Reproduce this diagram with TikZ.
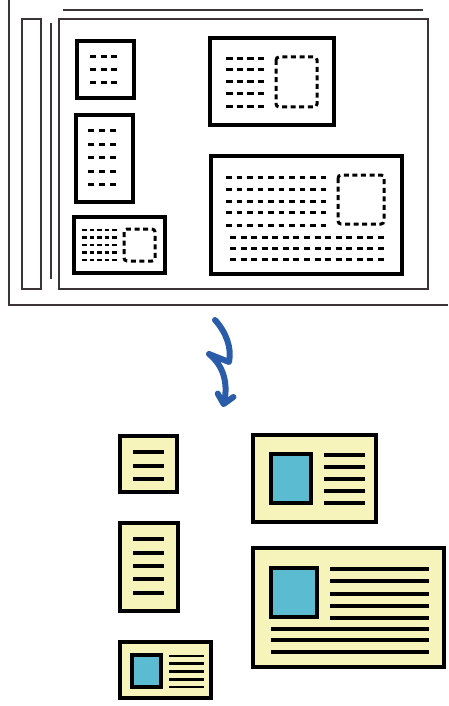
\documentclass[tikz,border=0pt]{standalone}
\usepackage{xcolor}
\usepackage{tikz}
\usetikzlibrary{arrows.meta}

\definecolor{framegray}{HTML}{3C3434}
\definecolor{cardyellow}{HTML}{F6F4BB}
\definecolor{photoblue}{HTML}{5BBCD1}
\definecolor{arrowblue}{HTML}{2A5CAA}

\begin{document}
\begin{tikzpicture}[
    x=1pt, y=-1pt,
    thin line/.style={draw=framegray, line width=1.5pt},
    scanbox/.style={draw=black, line width=3.6pt},
    dots/.style={line width=3pt, dash pattern=on #1},
    dots/.default={6pt off 4.5pt},
    photoslot/.style={draw=black, line width=3pt, rounded corners=3pt, dash pattern=on 5pt off 3.6pt},
    card/.style={draw=black, line width=3.6pt, fill=cardyellow},
    photo/.style={draw=black, line width=3.6pt, fill=photoblue},
    txt/.style={line width=3.2pt},
    flow/.style={draw=arrowblue, line width=6pt, line cap=round, line join=round,
        -{Straight Barb[length=9pt, width=16pt, round]}},
]
    \useasboundingbox (0,0) rectangle (448,706);

    % --- Scanner glass (top) ---
    \draw[thin line] (9,0) -- (9,305) -- (448,305);
    \draw[thin line] (63,10) -- (423,10);
    \draw[thin line] (22,19) rectangle (41,289);
    \draw[thin line] (51,23) -- (51,279);
    \draw[thin line] (59,19) rectangle (428,289);

    % --- Originals placed on the glass ---
    % small, landscape-ish
    \draw[scanbox] (77,41) rectangle (134,98);
    \foreach \y in {57,70,83}
        \draw[dots] (90,\y) -- (117,\y);
    % small, portrait
    \draw[scanbox] (76,115) rectangle (133,202);
    \foreach \y in {130,144,157,171,184}
        \draw[dots={6pt off 5pt}] (88,\y) -- (116,\y);
    % business card
    \draw[scanbox] (74,217) rectangle (165,273);
    \foreach \y in {230,237.5,245,252.5,260}
        \draw[dots={4.5pt off 3pt}, line width=2.4pt] (82,\y) -- (117,\y);
    \draw[photoslot] (124,229) rectangle (155,261);
    % medium card
    \draw[scanbox] (210,38) rectangle (334,125);
    \foreach \y in {59,70,82,94,107}
        \draw[dots={6.5pt off 4pt}] (226,\y) -- (264,\y);
    \draw[photoslot] (276,57) rectangle (317,107);
    % large card
    \draw[scanbox] (211,156) rectangle (402,274);
    \foreach \y in {177,189,201,212,225}
        \draw[dots={5.5pt off 5pt}] (226,\y) -- (326,\y);
    \foreach \y in {237,248,259}
        \draw[dots={6pt off 4.57pt}] (230,\y) -- (384,\y);
    \draw[photoslot] (338,175) rectangle (384,224);

    % --- Arrow ---
    \coordinate (a0) at (215,320);
    \coordinate (a1) at (229,362);
    \coordinate (a2) at (209,354);
    \coordinate (a3) at (223,407);
    \draw[flow] (a0) .. controls (226,332) and (232,348) .. (a1)
        -- (a2) .. controls (224,366) and (228,384) .. (a3);

    % --- Separated images (bottom) ---
    \draw[card] (120,436) rectangle (177,492);
    \foreach \y in {452,466,479}
        \draw[txt] (133,\y) -- (164,\y);

    \draw[card] (120,523) rectangle (178,611);
    \foreach \y in {539,553,566,579,593}
        \draw[txt] (133,\y) -- (164,\y);

    \draw[card] (120,642) rectangle (211,698);
    \draw[photo] (132,655) rectangle (161,687);
    \foreach \y in {656,663.7,671.5,679.2,687}
        \draw[txt, line width=2.8pt] (169,\y) -- (204,\y);

    \draw[card] (253,435) rectangle (376,522);
    \draw[photo] (271,454) rectangle (311,503);
    \foreach \y in {455,467,479,491,503}
        \draw[txt] (324,\y) -- (365,\y);

    \draw[card] (253,548) rectangle (444,667);
    \draw[photo] (271,568) rectangle (317,617);
    \foreach \y in {569,581,594,606,618}
        \draw[txt] (330,\y) -- (429,\y);
    \foreach \y in {629,640,652}
        \draw[txt] (271,\y) -- (429,\y);
\end{tikzpicture}
\end{document}
